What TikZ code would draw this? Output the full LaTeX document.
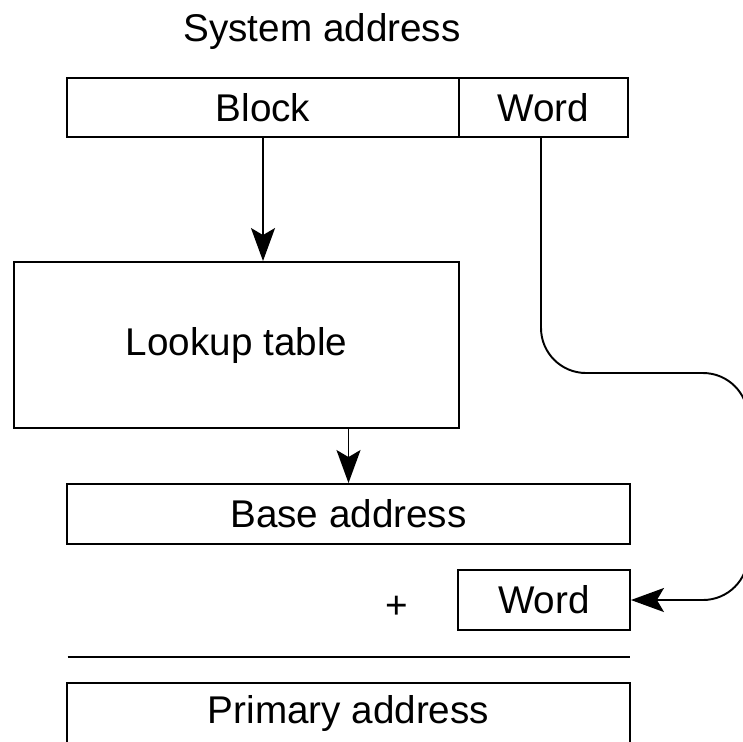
\documentclass[tikz,border=0pt]{standalone}
\usepackage{fontspec}
\setmainfont{Liberation Sans}
\usetikzlibrary{arrows.meta,positioning}

\begin{document}
\begin{tikzpicture}[
 x=0.02cm,y=-0.02cm,
 field/.style={
  rectangle,
  draw=black,
  line width=1.1pt,
  inner sep=0pt,
  font=\fontsize{22}{26}\selectfont
 },
 caption/.style={font=\fontsize{22}{26}\selectfont,inner sep=0pt},
 flow/.style={-{Stealth[length=0.66cm,width=0.48cm,inset=0.14cm]},line width=1.1pt}
]
 \useasboundingbox (0,0) rectangle (743,741);
 \clip (0,0) rectangle (743,741);

 \node[caption] (sysaddr) at (322,32) {System address};
 \node[field,minimum width=7.84cm,minimum height=1.18cm] (block) at (263,107.5) {Block};
 \node[field,minimum width=3.38cm,minimum height=1.18cm] (word) at (543.5,107.5) {Word};

 \node[field,minimum width=8.9cm,minimum height=3.32cm] (lookup) at (236.5,345) {Lookup table};

 \node[field,minimum width=11.26cm,minimum height=1.2cm] (base) at (348.5,514) {Base address};
 \node[caption] (plus) at (397,607) {+};
 \node[field,minimum width=3.44cm,minimum height=1.2cm] (offset) at (544,600) {Word};

 \coordinate (rulel) at (67.5,657);
 \coordinate (ruler) at (630,657);
 \node[field,minimum width=11.26cm,minimum height=1.2cm] (primary) at (348.5,713) {Primary address};

 \draw[flow] (block.south) -- (block.south |- lookup.north);
 \draw[flow] (lookup.south -| base.north) -- (base.north);
 \draw[flow,rounded corners=0.9cm] (541,137) |- (748,373) |- (offset.east);
 \draw[line width=1.1pt] (rulel) -- (ruler);
\end{tikzpicture}
\end{document}
